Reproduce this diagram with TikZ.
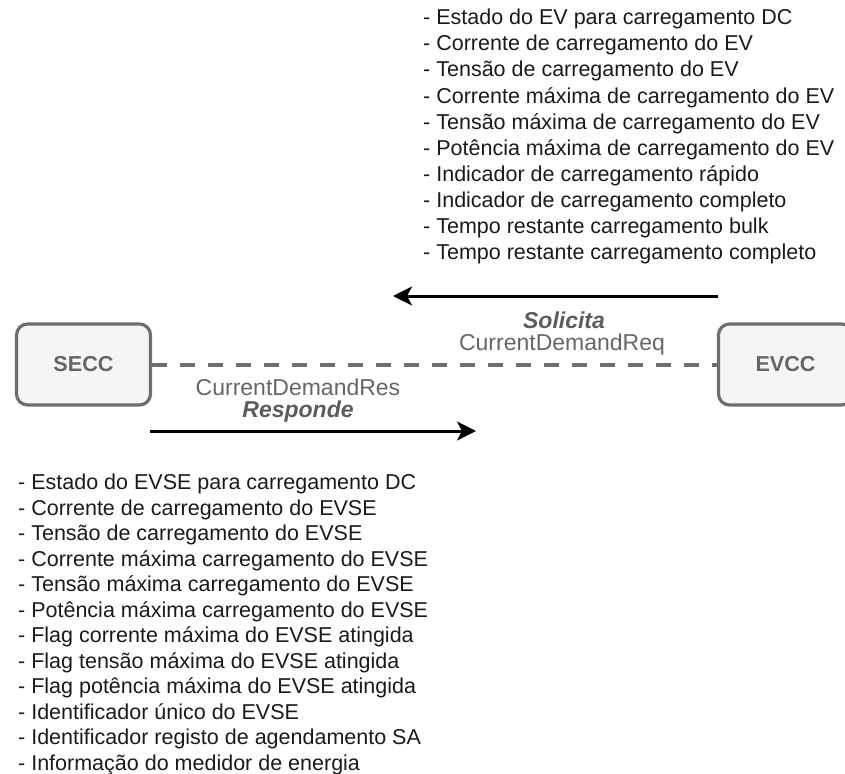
\documentclass[tikz,border=0pt]{standalone}
\usepackage{fontspec}
\setmainfont{Liberation Sans}
\usetikzlibrary{arrows.meta}
\definecolor{boxfill}{HTML}{F5F5F5}
\definecolor{boxline}{HTML}{6E6E6E}
\definecolor{labelgray}{HTML}{666666}
\definecolor{listtext}{HTML}{1A1A1A}
\tikzset{
  unit/.style={draw=boxline, line width=3.2pt, fill=boxfill, rounded corners=11pt,
    minimum width=134pt, minimum height=81pt, inner sep=0pt,
    font=\fontsize{21.6}{26}\selectfont\bfseries, text=labelgray},
  link/.style={draw=boxline, line width=4pt, dash pattern=on 15pt off 13pt},
  msg/.style={draw=black, line width=3pt, -{Stealth[length=19pt, width=19pt, inset=5pt]}},
  msgname/.style={font=\fontsize{23}{27}\selectfont, text=labelgray, inner sep=0pt},
  verb/.style={font=\fontsize{23}{27}\selectfont\bfseries\itshape, text=labelgray!90!black, inner sep=0pt},
  fieldlist/.style={text=listtext, align=left, inner sep=0pt, anchor=north west}
}
\begin{document}
\begin{tikzpicture}[x=1pt, y=-1pt]
  \useasboundingbox (0,0) rectangle (845,773);
  \begin{scope}
    \clip (0,0) rectangle (845,773);

    % the two controllers
    \node[unit] (secc) at (83.5,364.5) {SECC};
    \node[unit] (evcc) at (785.5,364.5) {EVCC};

    % communication link between them
    \draw[link] (secc.east) -- (evcc.west);

    % request: EVCC -> SECC
    \coordinate (reqstart) at (718,296);
    \coordinate (reqend) at (393,296);
    \draw[msg] (reqstart) -- (reqend);
    \node[verb] (solicita) at (564,320) {Solicita};
    \node[msgname] (req) at (562,345) {CurrentDemandReq};

    % response: SECC -> EVCC
    \coordinate (resstart) at (150,431);
    \coordinate (resend) at (476,431);
    \draw[msg] (resstart) -- (resend);
    \node[msgname] (res) at (298,387) {CurrentDemandRes};
    \node[verb] (responde) at (298,412) {Responde};

    % parameters carried by the request
    \node[fieldlist, font=\fontsize{21.5}{26.1}\selectfont] (reqfields) at (423,9) {%
      - Estado do EV para carregamento DC\\
      - Corrente de carregamento do EV\\
      - Tensão de carregamento do EV\\
      - Corrente máxima de carregamento do EV\\
      - Tensão máxima de carregamento do EV\\
      - Potência máxima de carregamento do EV\\
      - Indicador de carregamento rápido\\
      - Indicador de carregamento completo\\
      - Tempo restante carregamento bulk\\
      - Tempo restante carregamento completo};

    % parameters carried by the response
    \node[fieldlist, font=\fontsize{21.5}{25.5}\selectfont] (resfields) at (18,474) {%
      - Estado do EVSE para carregamento DC\\
      - Corrente de carregamento do EVSE\\
      - Tensão de carregamento do EVSE\\
      - Corrente máxima carregamento do EVSE\\
      - Tensão máxima carregamento do EVSE\\
      - Potência máxima carregamento do EVSE\\
      - Flag corrente máxima do EVSE atingida\\
      - Flag tensão máxima do EVSE atingida\\
      - Flag potência máxima do EVSE atingida\\
      - Identificador único do EVSE\\
      - Identificador registo de agendamento SA\\
      - Informação do medidor de energia};
  \end{scope}
\end{tikzpicture}
\end{document}
